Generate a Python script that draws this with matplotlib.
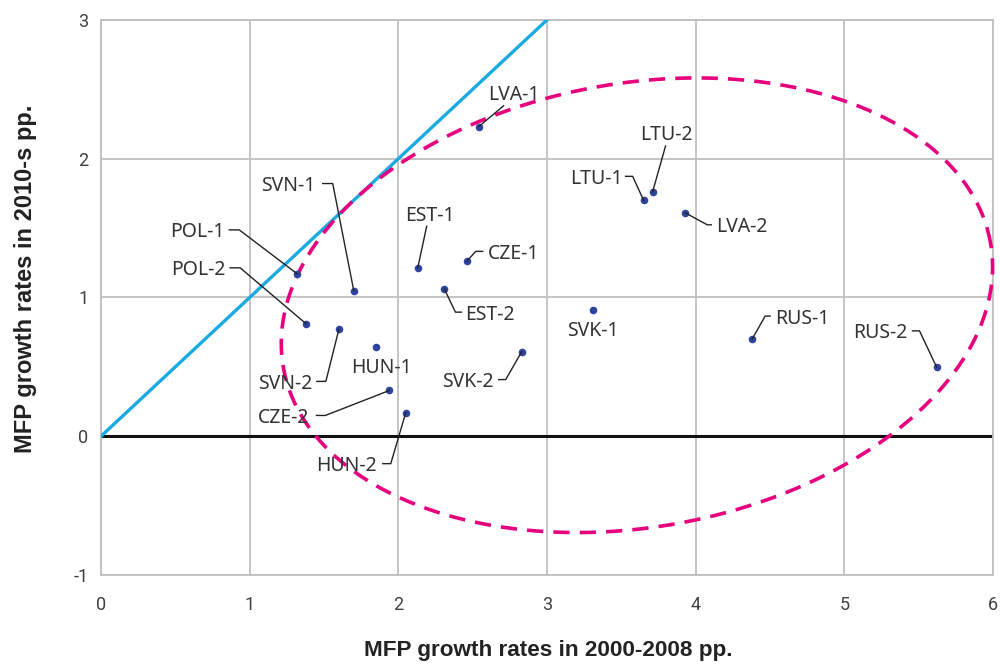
import numpy as np
import matplotlib
matplotlib.use("Agg")
import matplotlib.pyplot as plt
from matplotlib.lines import Line2D
from matplotlib.transforms import IdentityTransform

plt.rcParams["axes.unicode_minus"] = False

# MFP growth: 2000-2008 (x) vs 2010s (y), pp.
countries = ["POL-1", "POL-2", "SVN-1", "SVN-2", "EST-1", "EST-2", "CZE-1", "CZE-2",
             "HUN-1", "HUN-2", "LVA-1", "LVA-2", "LTU-1", "LTU-2", "SVK-1", "SVK-2",
             "RUS-1", "RUS-2"]
growth_2000s = [1.32, 1.38, 1.70, 1.60, 2.13, 2.31, 2.46, 1.94,
                1.85, 2.05, 2.54, 3.93, 3.65, 3.71, 3.31, 2.83,
                4.38, 5.62]
growth_2010s = [1.17, 0.81, 1.05, 0.77, 1.21, 1.06, 1.26, 0.33,
                0.64, 0.17, 2.23, 1.61, 1.70, 1.76, 0.91, 0.61,
                0.70, 0.50]

x_ticks = [0, 1, 2, 3, 4, 5, 6]
y_ticks = [-1, 0, 1, 2, 3]

# label layout, pixel offsets from the point (right, down):
# text position, alignment, leader vertices (elbow, tick end)
label_layout = {
    "POL-1": ((-73, -44), "right", [(-58, -44), (-68, -44)]),
    "POL-2": ((-81, -56), "right", [(-66, -56), (-76, -56)]),
    "SVN-1": ((-38, -107), "right", [(-21, -107), (-31, -107)]),
    "SVN-2": ((-27, 52), "right", [(-13, 52), (-22, 52)]),
    "EST-1": ((12, -55), "center", [(9, -42)]),
    "EST-2": ((21, 23), "left", [(11, 23), (17, 23)]),
    "CZE-1": ((21, -10), "left", [(9, -10), (16, -10)]),
    "CZE-2": ((-80, 25), "right", [(-64, 25), (-73, 25)]),
    "HUN-1": ((5, 18), "center", []),
    "HUN-2": ((-29, 51), "right", [(-15, 51), (-23, 51)]),
    "LVA-1": ((35, -34), "center", [(25, -21)]),
    "LVA-2": ((31, 12), "left", [(22, 12), (26, 12)]),
    "LTU-1": ((-21, -24), "right", [(-11, -24), (-18, -24)]),
    "LTU-2": ((14, -60), "center", [(13, -46)]),
    "SVK-1": ((0, 19), "center", []),
    "SVK-2": ((-28, 28), "right", [(-16, 28), (-23, 28)]),
    "RUS-1": ((23, -23), "left", [(13, -23), (18, -23)]),
    "RUS-2": ((-29, -36), "right", [(-17, -36), (-24, -36)]),
}

# dashed ellipse (centre in data units, semi-axes in x-axis units, tilt in degrees)
ellipse_center = (3.605, 0.944)
ellipse_semi = (2.415, 1.493)
ellipse_tilt = 10.0

grid_color = "#bfbfbf"
text_color = "#333333"

fig = plt.figure(figsize=(10, 6.64), dpi=100)
ax = fig.add_axes([0.101, 0.134, 0.892, 0.836])
ax.set_xlim(0, 6)
ax.set_ylim(-1, 3)
ax.set_xticks(x_ticks)
ax.set_yticks(y_ticks)
ax.grid(True, color=grid_color, linewidth=1.3)
ax.set_axisbelow(True)
for side in ax.spines.values():
    side.set_color(grid_color)
    side.set_linewidth(1.3)
ax.tick_params(length=0, labelsize=13, labelcolor="#404040")
ax.tick_params(axis="y", pad=9)
ax.tick_params(axis="x", pad=15)
for lab in ax.get_xticklabels() + ax.get_yticklabels():
    lab.set_family("Roboto")

ax.set_xlabel("MFP growth rates in 2000-2008 pp.", fontsize=16.2, fontweight="bold",
              family="Liberation Sans", color="#222222")
ax.xaxis.set_label_coords(0.501, -0.117)
ax.set_ylabel("MFP growth rates in 2010-s pp.", fontsize=17, fontweight="bold",
              family="Liberation Sans", color="#222222")
ax.yaxis.set_label_coords(-0.072, 0.533)

# zero line and 45-degree line
ax.axhline(0, color="#111111", linewidth=2.2, zorder=2)
ax.plot([0, 3], [0, 3], color="#1aaae2", linewidth=2.4, zorder=3)

# ellipse, built in display space so the tilt looks right
sx = ax.transData.transform((1, 0))[0] - ax.transData.transform((0, 0))[0]
sy = ax.transData.transform((0, 1))[1] - ax.transData.transform((0, 0))[1]
t = np.linspace(0, 2 * np.pi, 400)
a_px, b_px = ellipse_semi[0] * sx, ellipse_semi[1] * sx
th = np.radians(ellipse_tilt)
u = a_px * np.cos(t) * np.cos(th) - b_px * np.sin(t) * np.sin(th)
v = a_px * np.cos(t) * np.sin(th) + b_px * np.sin(t) * np.cos(th)
ax.plot(ellipse_center[0] + u / sx, ellipse_center[1] + v / sy,
        color="#e6007e", linewidth=2.6, linestyle=(0, (4.5, 2.8)), zorder=4, clip_on=False)

ax.scatter(growth_2000s, growth_2010s, s=30, color="#2e45a0", zorder=6, linewidths=0)

for name, x, y in zip(countries, growth_2000s, growth_2010s):
    (tx, ty), ha, leader = label_layout[name]
    ax.annotate(name, (x, y), xytext=(tx, -ty), textcoords="offset pixels",
                ha=ha, va="center_baseline", fontsize=14, family="Noto Sans",
                color=text_color, zorder=7)
    if leader:
        px, py = ax.transData.transform((x, y))
        xs = [px] + [px + dx for dx, dy in leader]
        ys = [py] + [py - dy for dx, dy in leader]
        fig.add_artist(Line2D(xs, ys, color="#222222", linewidth=1.0,
                              transform=IdentityTransform(), zorder=5))

fig.savefig("out.png", dpi=100, facecolor="white")
